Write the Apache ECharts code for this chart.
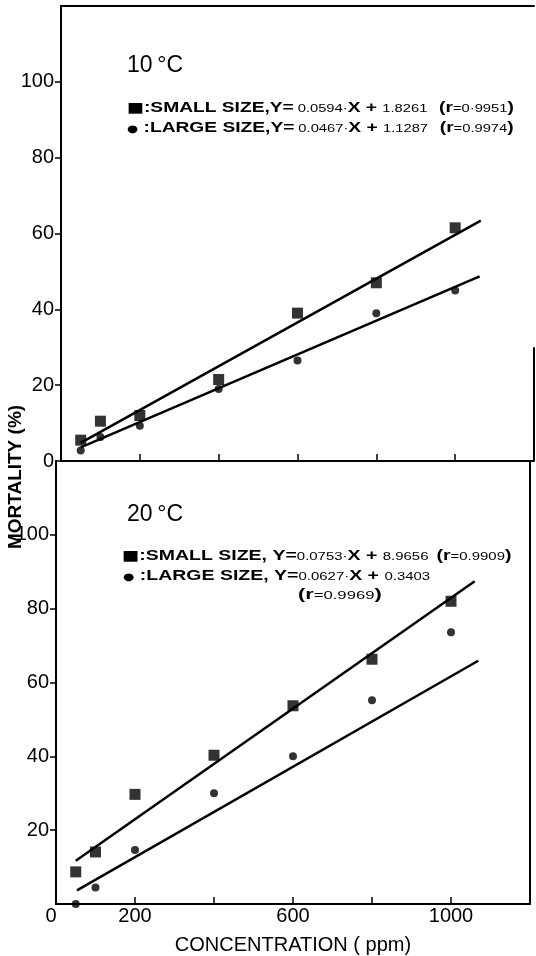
<!DOCTYPE html>
<html><head><meta charset="utf-8">
<script src="https://cdn.jsdelivr.net/npm/echarts@6/dist/echarts.min.js"></script>
<style>html,body{margin:0;padding:0;background:#fff}#c{width:536px;height:956px}</style>
</head><body><div id="c"></div><script>
// ---- data ----
const conc = [50, 100, 200, 400, 600, 800, 1000];
const small10 = [5.5, 10.5, 12, 21.5, 39, 47, 61.5];
const large10 = [2.8, 6.3, 9.3, 19, 26.5, 39, 45];
const small20 = [8.7, 14.1, 29.7, 40.3, 53.7, 66.3, 82];
const large20 = [0, 4.5, 14.6, 30, 40, 55.2, 73.6];
// regression line end points (x, y)
const fitSmall10 = [[50, 4.8], [1065, 63.4]];
const fitLarge10 = [[50, 3.6], [1062, 48.7]];
const fitSmall20 = [[50, 11.7], [1060, 87.4]];
const fitLarge20 = [[53, 3.7], [1069, 65.9]];
// ticks / labels
const xTicks = [200, 400, 600, 800, 1000];
const xLabels = [0, 200, 600, 1000];
const yLabelsTop = [0, 20, 40, 60, 80, 100];
const yLabelsBottom = [20, 40, 60, 80, 100];

const F = '"Liberation Sans", Arial, sans-serif';
const chart = echarts.init(document.getElementById('c'), null, {renderer: 'canvas'});
const axLine = {show: true, onZero: false, lineStyle: {color: '#000', width: 2}};
const noSplit = {show: false};

function pts(ys) { return conc.map((x, i) => [x, ys[i]]); }

const R = {
  q: {fontFamily: 'DejaVu Sans', fontSize: 14, fill: '#000', verticalAlign: 'bottom'},
  c: {fontFamily: 'DejaVu Sans', fontSize: 10, fill: '#000', verticalAlign: 'bottom', padding: [0, 0, 1, 0]},
  b: {fontFamily: F, fontWeight: 'bold', fontSize: 15, fill: '#000', verticalAlign: 'bottom'},
  s: {fontFamily: F, fontSize: 11.5, fill: '#000', verticalAlign: 'bottom', padding: [0, 0, 1, 0]}
};
function legendText(x, y, text, sx) {
  return {type: 'text', x: x, y: y, scaleX: sx, silent: true,
    style: {text: text, fill: '#000', font: '11px ' + F, rich: R, verticalAlign: 'middle', align: 'left'}};
}
function titleText(x, y, t) {
  return {type: 'text', x: x, y: y, silent: true,
    style: {text: t, fill: '#000', font: '23px ' + F, verticalAlign: 'middle'}};
}

const fitLine = (data, xi, yi) => ({type: 'line', xAxisIndex: xi, yAxisIndex: yi, data: data, symbol: 'none',
  lineStyle: {color: '#000', width: 2.5}, silent: true});

const option = {
  animation: false,
  backgroundColor: '#fff',
  grid: [
    {left: 61, right: 2, top: 6, height: 455},
    {left: 56, right: 6, top: 461, height: 451}
  ],
  xAxis: [
    {gridIndex: 0, type: 'value', min: 0, max: 1200, interval: 200, axisLine: axLine,
      axisTick: {inside: true, length: 7, lineStyle: {color: '#000', width: 1.5}, customValues: xTicks},
      axisLabel: {show: false}, splitLine: noSplit},
    {gridIndex: 0, type: 'value', position: 'top', min: 0, max: 1200, interval: 200, axisLine: axLine,
      axisTick: {show: false}, axisLabel: {show: false}, splitLine: noSplit},
    {gridIndex: 1, type: 'value', min: 0, max: 1200, interval: 200, axisLine: axLine,
      axisTick: {inside: true, length: 7, lineStyle: {color: '#000', width: 1.5}, customValues: xTicks},
      axisLabel: {customValues: xLabels, color: '#000', fontFamily: F, fontSize: 20, margin: 2,
        formatter: v => v === 0 ? '{z|0}' : String(v),
        rich: {z: {fontFamily: F, fontSize: 20, color: '#000', padding: [0, 10, 0, 0]}}},
      splitLine: noSplit,
      name: 'CONCENTRATION ( ppm)', nameLocation: 'middle', nameGap: 31,
      nameTextStyle: {color: '#000', fontFamily: F, fontSize: 20}}
  ],
  yAxis: [
    {gridIndex: 0, type: 'value', min: 0, max: 120, interval: 20, axisLine: axLine,
      axisTick: {length: 6, lineStyle: {color: '#000', width: 1.5}, customValues: yLabelsTop},
      axisLabel: {customValues: yLabelsTop, color: '#000', fontFamily: F, fontSize: 20, margin: 7},
      splitLine: noSplit},
    {gridIndex: 1, type: 'value', min: 0, max: 120, interval: 20, axisLine: axLine,
      axisTick: {length: 6, lineStyle: {color: '#000', width: 1.5}, customValues: yLabelsBottom},
      axisLabel: {customValues: yLabelsBottom, color: '#000', fontFamily: F, fontSize: 20, margin: 7},
      splitLine: noSplit},
    {gridIndex: 1, type: 'value', position: 'right', min: 0, max: 120, interval: 20, axisLine: axLine,
      axisTick: {show: false}, axisLabel: {show: false}, splitLine: noSplit}
  ],
  series: [
    Object.assign(fitLine(fitSmall10, 0, 0), {
      markLine: {silent: true, symbol: ['none', 'none'], label: {show: false},
        lineStyle: {color: '#000', width: 2, type: 'solid'},
        data: [[{coord: [1200, 0]}, {coord: [1200, 30]}]]}
    }),
    fitLine(fitLarge10, 0, 0),
    {type: 'scatter', xAxisIndex: 0, yAxisIndex: 0, data: pts(small10), symbol: 'rect', symbolSize: 11,
      itemStyle: {color: '#000'}},
    {type: 'scatter', xAxisIndex: 0, yAxisIndex: 0, data: pts(large10), symbol: 'circle', symbolSize: 8,
      itemStyle: {color: '#000'}},
    fitLine(fitSmall20, 2, 1),
    fitLine(fitLarge20, 2, 1),
    {type: 'scatter', xAxisIndex: 2, yAxisIndex: 1, data: pts(small20), symbol: 'rect', symbolSize: 11,
      itemStyle: {color: '#000'}},
    {type: 'scatter', xAxisIndex: 2, yAxisIndex: 1, data: pts(large20), symbol: 'circle', symbolSize: 8,
      itemStyle: {color: '#000'}}
  ],
  graphic: [
    titleText(127, 66, '10\u2009°C'),
    legendText(127, 108, '{q|■}{b|:SMALL SIZE,Y=} {s|0.0594·}{b|X}{b| + }{s|1.8261}   {b|(r}{s|=0·9951}{b|)}', 1.28),
    legendText(127, 128, '{c|●}{b| :LARGE SIZE,Y=} {s|0.0467·}{b|X}{b| + }{s|1.1287}   {b|(r}{s|=0.9974}{b|)}', 1.28),
    titleText(127, 515, '20\u2009°C'),
    legendText(122, 556, '{q|■}{b|:SMALL SIZE, Y=}{s|0.0753·}{b|X}{b| + }{s|8.9656}  {b|(r}{s|=0.9909}{b|)}', 1.3),
    legendText(123, 576, '{c|●}{b| :LARGE SIZE, Y=}{s|0.0627·}{b|X}{b| + }{s|0.3403}', 1.3),
    legendText(298, 595, '{b|(r}{s|=0.9969}{b|)}', 1.45),
    {type: 'text', x: 16, y: 477, rotation: Math.PI / 2, silent: true,
      style: {text: 'MORTALITY (%)', fill: '#000', font: 'bold 19px ' + F, align: 'center', verticalAlign: 'middle'}}
  ]
};
chart.setOption(option);
</script></body></html>
